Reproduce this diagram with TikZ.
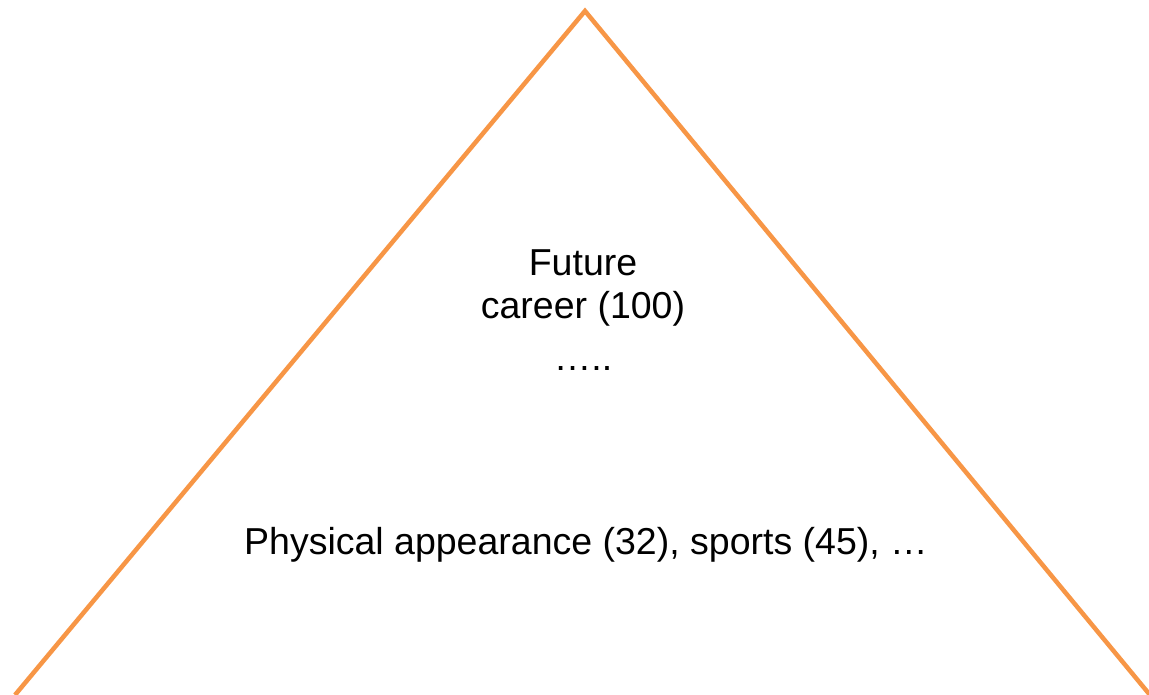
\documentclass[tikz,border=0pt]{standalone}
\usepackage{fontspec}
\setmainfont{Liberation Sans}
\usetikzlibrary{positioning}
\definecolor{pyramidorange}{HTML}{F79646}
\tikzset{
  label text/.style={font=\fontsize{37.5}{45}\selectfont, text=black, inner sep=0pt, align=center}
}
\begin{document}
\begin{tikzpicture}[x=1pt, y=-1pt]
            \useasboundingbox (0,0) rectangle (1149,695);

            % Pyramid outline
            \coordinate (apex) at (585,11);
            \coordinate (left) at (15,695);
            \coordinate (right) at (1150,695);
            \draw[pyramidorange, line width=4.5pt, line join=miter] (left) -- (apex) -- (right);

            % Top level
            \node[label text] (future) at (583,263) {Future};
            \node[label text] (career) at (583,309) {career (100)};
            \node[label text] (dots) at (583,368) {…..};

            % Bottom level
            \node[label text] (physical) at (586,545) {Physical appearance (32), sports (45), …};
        \end{tikzpicture}
\end{document}
